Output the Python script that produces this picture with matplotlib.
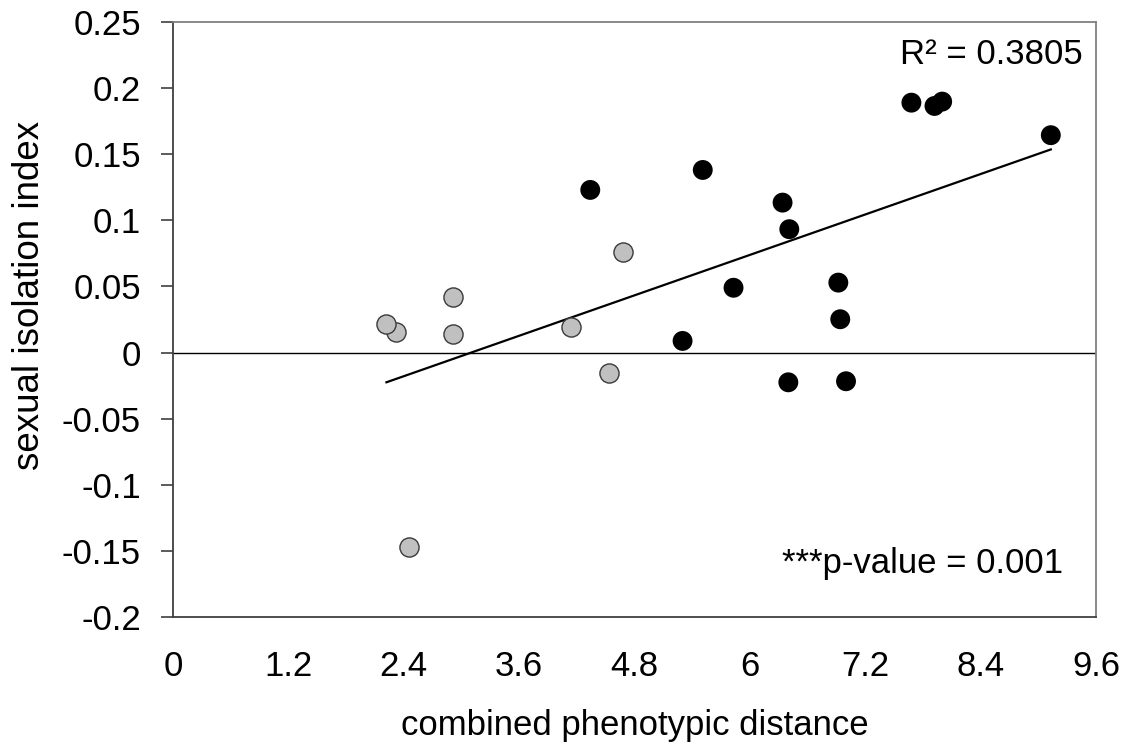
import numpy as np
import matplotlib
matplotlib.use("Agg")
import matplotlib.pyplot as plt

plt.rcParams['font.family'] = ['Liberation Sans', 'DejaVu Sans']

# Data
gray_x = [2.32, 2.22, 2.91, 2.91, 4.14, 4.53, 4.68, 2.45]
gray_y = [0.0154, 0.0214, 0.0423, 0.0138, 0.0196, -0.0152, 0.0761, -0.1468]
black_x = [4.34, 5.51, 5.30, 5.83, 6.34, 6.41, 6.92, 6.94, 6.40, 7.00, 7.68, 7.92, 8.00, 9.13]
black_y = [0.1230, 0.1381, 0.0088, 0.0490, 0.1134, 0.0933, 0.0529, 0.0252, -0.0225, -0.0217,
           0.1890, 0.1865, 0.1898, 0.1644]

x_ticks = [0, 1.2, 2.4, 3.6, 4.8, 6, 7.2, 8.4, 9.6]
x_labels = ['0', '1.2', '2.4', '3.6', '4.8', '6', '7.2', '8.4', '9.6']
y_ticks = [0.25, 0.2, 0.15, 0.1, 0.05, 0, -0.05, -0.1, -0.15, -0.2]
y_labels = ['0.25', '0.2', '0.15', '0.1', '0.05', '0', '-0.05', '-0.1', '-0.15', '-0.2']

r2_text = 'R\u00b2 = 0.3805'
p_text = '***p-value = 0.001'

# linear fit over all points
all_x = np.array(gray_x + black_x)
all_y = np.array(gray_y + black_y)
slope, intercept = np.polyfit(all_x, all_y, 1)
fit_x = np.array([all_x.min(), all_x.max()])
fit_y = slope * fit_x + intercept

fig = plt.figure(figsize=(11.31, 7.48), dpi=100)
ax = fig.add_axes([173/1131, 131/748, 923/1131, 595/748])

ax.axhline(0, color='black', lw=1.0, zorder=1)
ax.plot(fit_x, fit_y, color='black', lw=1.6, zorder=2)
ax.scatter(black_x, black_y, s=205, color='black', edgecolors='none', zorder=3)
ax.scatter(gray_x, gray_y, s=190, color='#c0c0c0', edgecolors='#3a3a3a', linewidths=1.0, zorder=4)

ax.set_xlim(0, 9.6)
ax.set_ylim(-0.2, 0.25)
ax.set_xticks(x_ticks)
ax.set_xticklabels(x_labels)
ax.set_yticks(y_ticks)
ax.set_yticklabels(y_labels)
ax.tick_params(axis='x', length=0, pad=24, labelsize=25)
ax.tick_params(axis='y', length=9, width=1.2, color='#404040', pad=14, labelsize=25)

for side in ['left', 'bottom']:
    ax.spines[side].set_color('#404040')
    ax.spines[side].set_linewidth(1.3)
for side in ['top', 'right']:
    ax.spines[side].set_color('#808080')
    ax.spines[side].set_linewidth(1.3)

ax.set_xlabel('combined phenotypic distance', fontsize=25)
ax.xaxis.set_label_coords(0.5, -0.155)
ax.set_ylabel('sexual isolation index', fontsize=26.5)
ax.yaxis.set_label_coords(-0.137, 0.54)

ax.text(0.986, 0.929, r2_text, transform=ax.transAxes, ha='right', va='baseline', fontsize=25)
ax.text(0.964, 0.074, p_text, transform=ax.transAxes, ha='right', va='baseline', fontsize=25)

fig.savefig('out.png', dpi=100)
print(slope, intercept)
